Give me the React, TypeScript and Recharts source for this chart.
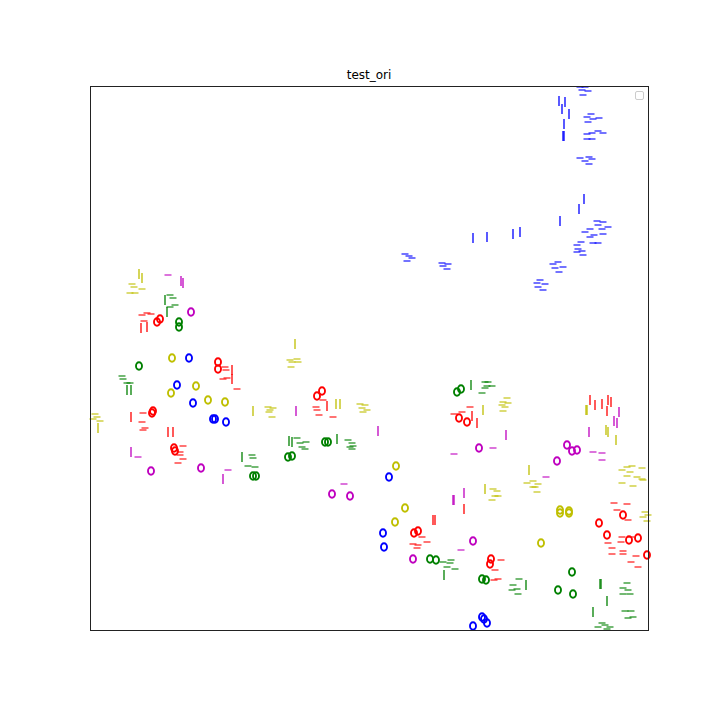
import { Scatter, ScatterChart, XAxis, YAxis } from 'recharts'

type Pt = [number, number]

// blue
const blueO: Pt[] = [[99,272],[87,245],[103,227],[123,211],[125,211],[136,208],[299,153],[293,97],[294,83],[392,13],[394,11],[397,7],[383,4]]
const blueBar: Pt[] = [[469,529],[475,528],[472,521],[479,516],[474,506],[473,494],[474,494],[494,431],[489,421],[470,409],[383,392],[397,393],[423,396],[430,398]]
const blueDash: Pt[] = [
  [490,543],[495,543],[492,540],[498,539],[493,535],
  [501,516],[497,513],[503,511],[509,512],[498,508],
  [508,499],[513,497],[502,497],[497,496],[497,491],[502,491],
  [490,472],[499,473],[502,471],[495,469],[499,466],
  [507,409],[513,408],[508,405],[518,403],[500,401],[512,401],[495,398],[504,395],[513,396],[500,393],[491,388],[508,387],[503,387],[487,385],[488,381],[492,379],[487,378],[493,375],
  [315,376],[319,374],[322,372],[317,369],
  [352,367],[358,366],[353,364],[357,361],
  [468,368],[463,366],[473,363],[465,362],[469,358],
  [450,350],[447,347],[455,346],[448,343],[453,340],
]

// green
const greenO: Pt[] = [[89,308],[89,303],[49,264],[235,188],[238,188],[198,173],[202,174],[163,154],[166,154],[367,238],[371,241],[340,71],[346,70],[392,51],[396,50],[482,58],[468,40],[483,36]]
const greenBar: Pt[] = [[75,330],[77,318],[37,240],[41,240],[199,189],[202,188],[247,191],[152,173],[381,245],[354,55],[436,45],[510,46],[511,46],[517,29],[503,18]]
const greenDash: Pt[] = [
  [80,335],[83,332],[85,325],[80,323],
  [32,254],[33,251],[37,247],[40,247],
  [207,192],[210,187],[216,188],[212,183],[215,181],
  [258,190],[262,187],[260,183],[263,184],[262,181],
  [162,175],[163,172],[158,164],[165,163],
  [395,248],[398,248],[397,244],[395,242],[392,237],[402,244],
  [353,68],[361,70],[360,67],[357,63],[365,61],
  [429,51],[423,45],[427,41],[422,40],[428,36],
  [537,47],[533,42],[538,40],[533,36],[540,36],[535,19],[541,19],[538,12],[543,13],
  [512,7],[515,5],[508,3],[520,3],[517,1],
]

// red
const redO: Pt[] = [[67,308],[70,311],[128,268],[128,261],[62,217],[63,219],[84,182],[85,179],[227,234],[232,239],[369,212],[377,208],[324,97],[328,99],[401,71],[400,66],[533,115],[509,107],[517,95],[539,90],[548,92],[557,75]]
const redBar: Pt[] = [[51,302],[57,303],[142,260],[142,251],[41,213],[78,198],[83,198],[237,224],[382,214],[387,207],[374,121],[343,110],[345,110],[500,230],[505,225],[512,226],[518,230],[521,228],[517,219]]
const redDash: Pt[] = [
  [52,315],[57,317],[61,316],[54,309],
  [135,263],[136,260],[133,251],[137,252],[147,241],
  [53,217],[52,208],[55,202],[53,200],
  [93,184],[90,178],[90,175],[93,171],[88,167],
  [233,230],[226,223],[227,220],[229,215],[243,213],
  [364,216],[372,218],[380,223],
  [332,93],[337,88],[323,86],[328,85],[327,82],
  [411,70],[405,60],[408,51],[404,50],
  [524,127],[537,126],[527,120],[538,110],[532,93],[531,88],[541,93],[518,87],[522,82],
  [541,68],[548,63],[546,74],[533,79],[533,76],[522,76],
]

// magenta
const magO: Pt[] = [[101,318],[61,159],[111,162],[242,136],[260,134],[389,182],[323,71],[383,89],[477,185],[482,179],[487,180],[467,169]]
const magBar: Pt[] = [[91,349],[93,347],[41,178],[133,151],[206,219],[288,199],[416,195],[363,130],[364,130],[374,137],[529,218],[524,209],[527,207],[499,198]]
const magDash: Pt[] = [[78,355],[48,173],[138,160],[254,146],[403,182],[364,176],[371,80],[503,178],[512,177],[512,170],[456,153]]

// yellow
const yelO: Pt[] = [[82,272],[106,244],[81,237],[118,230],[135,228],[306,164],[315,122],[305,108],[470,120],[470,117],[479,119],[479,117],[451,87]]
const yelBar: Pt[] = [[49,356],[52,352],[8,202],[163,219],[205,286],[246,226],[250,226],[393,220],[439,160],[395,141],[496,220],[497,220],[516,200],[518,198],[526,190]]
const yelDash: Pt[] = [
  [42,346],[44,343],[52,341],[40,337],[45,337],
  [5,216],[7,213],[3,211],[10,209],
  [178,223],[183,222],[179,218],[182,213],[180,220],
  [200,270],[207,271],[202,268],[208,268],[201,263],
  [270,226],[275,225],[272,222],[277,220],[273,218],
  [417,232],[413,228],[418,227],[412,225],[415,223],[413,219],
  [437,147],[443,149],[445,143],[447,138],[448,146],[443,143],
  [403,141],[407,139],[405,134],[408,134],[402,130],
  [537,163],[542,164],[532,160],[540,158],[552,162],[537,154],[547,153],[553,150],[532,147],[543,144],[552,151],
  [555,118],[558,115],[553,113],[557,109],
]

const BLUE = '#0000ff'
const GREEN = '#008000'
const RED = '#ff0000'
const MAGENTA = '#bf00bf'
const YELLOW = '#bfbf00'

const toData = (pts: Pt[]) => pts.map(([x, y]) => ({ x, y }))

function marker(kind: 'o' | 'bar' | 'dash', color: string) {
  return (p: any) => {
    const { cx, cy } = p
    if (kind === 'o')
      return <ellipse cx={cx} cy={cy} rx={3} ry={3.7} fill="none" stroke={color} strokeWidth={1.9} />
    if (kind === 'bar')
      return <line x1={cx} x2={cx} y1={cy - 5} y2={cy + 5} stroke={color} strokeWidth={1.3} />
    return <line x1={cx - 3.5} x2={cx + 3.5} y1={cy} y2={cy} stroke={color} strokeWidth={1.1} />
  }
}

const series: [Pt[], 'o' | 'bar' | 'dash', string][] = [
  [blueO, 'o', BLUE], [blueBar, 'bar', BLUE], [blueDash, 'dash', BLUE],
  [greenO, 'o', GREEN], [greenBar, 'bar', GREEN], [greenDash, 'dash', GREEN],
  [redO, 'o', RED], [redBar, 'bar', RED], [redDash, 'dash', RED],
  [magO, 'o', MAGENTA], [magBar, 'bar', MAGENTA], [magDash, 'dash', MAGENTA],
  [yelO, 'o', YELLOW], [yelBar, 'bar', YELLOW], [yelDash, 'dash', YELLOW],
]

export default function App() {
  return (
    <div style={{ position: 'absolute', left: 0, top: 0, width: 720, height: 720, background: '#fff', fontFamily: 'DejaVu Sans' }}>
      <ScatterChart width={720} height={720} margin={{ top: 86, right: 72, bottom: 90, left: 90 }}>
        <XAxis type="number" dataKey="x" domain={[0, 558]} hide />
        <YAxis type="number" dataKey="y" domain={[0, 544]} hide />
        {series.map(([pts, kind, color], i) => (
          <Scatter key={i} data={toData(pts)} shape={marker(kind, color)} isAnimationActive={false} />
        ))}
      </ScatterChart>
      <div style={{ position: 'absolute', left: 90, top: 86, width: 557, height: 543, border: '1px solid #222', pointerEvents: 'none' }} />
      <div style={{ position: 'absolute', left: 90, top: 68, width: 558, textAlign: 'center', fontSize: 12, lineHeight: '14px', color: '#000' }}>
        test_ori
      </div>
      <div style={{ position: 'absolute', left: 635, top: 91, width: 7, height: 7, border: '1px solid #ccc', borderRadius: 2, background: '#fff' }} />
    </div>
  )
}
